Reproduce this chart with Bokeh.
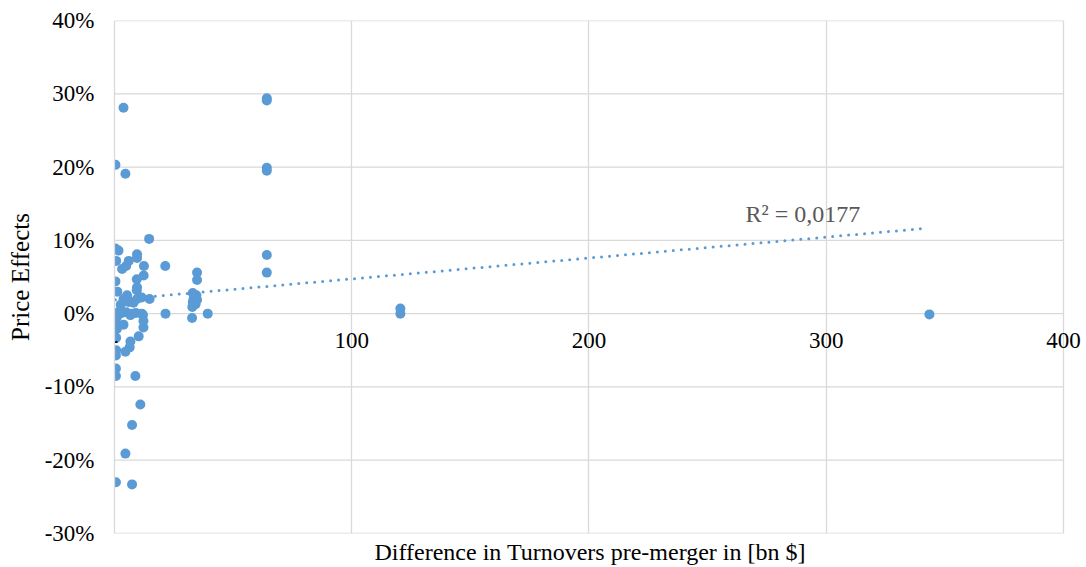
from bokeh.plotting import figure
from bokeh.models import Range1d, FixedTicker, PrintfTickFormatter, Label, Title
from bokeh.embed import file_html
from bokeh.resources import INLINE

# Difference in turnovers pre-merger [bn $]
turnover_diff = [
    0.4, 3.8, 4.6, 14.6, 0.4, 1.7, 9.5, 9.5, 0.7, 6.0,
    4.9, 3.2, 12.4, 21.4, 12.3, 9.4, 0.4, 9.5, 9.4, 1.2,
    5.3, 3.8, 5.9, 8.0, 9.5, 11.5, 14.8, 0.3, 3.1, 5.0,
    7.3, 9.0, 11.5, 1.0, 12.2, 12.2, 0.6, 3.8, 1.0, 0.7,
    10.2, 6.7, 6.4, 4.6, 0.7, 0.6, 0.6, 0.6, 8.8, 10.9,
    7.4, 4.6, 0.6, 7.4, 21.5, 34.8, 34.8, 33.0, 34.5, 33.4,
    34.8, 33.0, 34.2, 32.8, 32.7, 39.3, 64.2, 64.2, 64.2, 64.2,
    64.2, 64.2, 120.5, 120.5, 343.5, 2.0, 12.0, 2.6, 5.9, 6.7,
]
# Price effects [%]
price_effect = [
    20.3, 28.1, 19.1, 10.2, 8.9, 8.6, 8.1, 7.6, 7.2, 7.2,
    6.5, 6.1, 6.5, 6.5, 5.2, 4.7, 4.4, 3.6, 3.2, 3.0,
    2.5, 2.0, 1.8, 1.5, 2.0, 2.2, 2.0, 0.0, 0.1, 0.2,
    0.0, 0.1, 0.0, -0.5, -1.0, -1.9, -1.4, -1.5, -2.1, -3.3,
    -3.1, -3.8, -4.6, -5.2, -5.0, -5.7, -7.5, -8.5, -8.5, -12.4,
    -15.2, -19.1, -23.0, -23.3, 0.0, 5.6, 4.6, 2.8, 2.5, 2.1,
    1.9, 1.6, 1.3, 0.9, -0.6, 0.0, 29.4, 29.1, 19.9, 19.5,
    8.0, 5.6, 0.7, 0.0, -0.1, 0.3, -0.2, 1.2, 1.6, -0.2,
]

# Linear trendline (x in bn $, y in %)
trend_x = [0.4, 340.5]
trend_y = [1.9, 11.6]

x_ticks = [0, 100, 200, 300, 400]
x_tick_overrides = {0: "-"}
y_ticks = [-30, -20, -10, 0, 10, 20, 30, 40]
r2_text = "R² = 0,0177"
x_title = "Difference in Turnovers pre-merger in [bn $]"
y_title = "Price Effects"

FONT = "'Liberation Serif', serif"
BLUE = "#5B9BD5"
GRID = "#d9d9d9"

# x range runs a little past 400 so the "400" tick label is not clipped
p = figure(width=1086, height=567, output_backend="svg", toolbar_location=None,
           x_range=Range1d(0, 407.6), y_range=Range1d(-30, 40),
           min_border_left=114, min_border_right=5, min_border_top=20,
           min_border_bottom=34)
p.outline_line_color = None
p.background_fill_color = "white"
p.border_fill_color = "white"

# vertical grid lines from the x ticks
p.xgrid.ticker = FixedTicker(ticks=x_ticks)
p.xgrid.grid_line_color = GRID
p.xgrid.grid_line_width = 1.3
# horizontal grid lines, spanning only the 0..400 axis extent
p.ygrid.visible = False
p.segment(x0=[x_ticks[0]] * len(y_ticks), y0=y_ticks,
          x1=[x_ticks[-1]] * len(y_ticks), y1=y_ticks,
          line_color=GRID, line_width=1.3)

# y axis
yax = p.yaxis[0]
yax.ticker = FixedTicker(ticks=y_ticks)
yax.formatter = PrintfTickFormatter(format="%d%%")
yax.major_tick_line_color = None
yax.minor_tick_line_color = None
yax.major_tick_in = 0
yax.major_tick_out = 0
yax.axis_line_color = GRID
yax.axis_line_width = 1.3
yax.major_label_standoff = 20
yax.major_label_text_font = FONT
yax.major_label_text_font_size = "23px"
yax.major_label_text_color = "black"
yax.axis_label = y_title
yax.axis_label_text_font = FONT
yax.axis_label_text_font_size = "25px"
yax.axis_label_text_font_style = "normal"
yax.axis_label_text_color = "black"
yax.axis_label_standoff = 8

# x axis crossing at y = 0
xax = p.xaxis[0]
xax.fixed_location = 0
xax.ticker = FixedTicker(ticks=x_ticks)
xax.major_label_overrides = x_tick_overrides
xax.axis_line_color = None
xax.major_tick_line_color = None
xax.minor_tick_line_color = None
xax.major_tick_in = 0
xax.major_tick_out = 0
xax.major_label_standoff = 19
xax.major_label_text_font = FONT
xax.major_label_text_font_size = "23px"
xax.major_label_text_color = "black"

# x-axis title below the frame
p.add_layout(Title(text=x_title, align="left", text_font=FONT,
                   text_font_size="24px", text_font_style="normal",
                   text_color="black", standoff=6, offset=260), "below")

# data
p.scatter(turnover_diff, price_effect, size=10, fill_color=BLUE, line_color=None)

# trendline
p.line(trend_x, trend_y, line_color=BLUE, line_width=3, line_dash="0 8",
       line_cap="round")

p.add_layout(Label(x=266, y=13.6, text=r2_text, text_font=FONT,
                   text_font_size="24px", text_color="#595959",
                   text_baseline="alphabetic"))

open("out.html", "w").write(file_html(p, INLINE))
